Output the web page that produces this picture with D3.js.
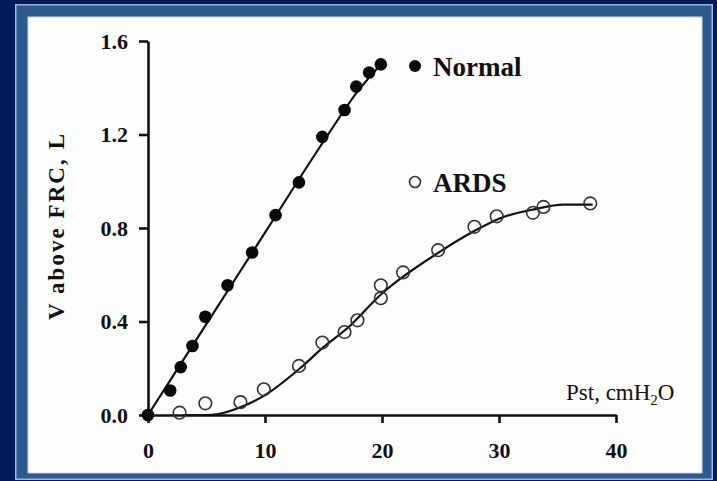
<!DOCTYPE html>
<html>
<head>
<meta charset="utf-8">
<script src="https://cdn.jsdelivr.net/npm/d3@7"></script>
<style>
  html, body { margin: 0; padding: 0; background: #041a58; }
  #chart { width: 717px; height: 481px; }
</style>
</head>
<body>
<div id="chart"></div>
<script>
// values
const normalX = [0, 1.9, 2.8, 3.8, 4.9, 6.8, 8.9, 10.9, 12.9, 14.9, 16.8, 17.8, 18.9, 19.9];
const normalY = [0, 0.105, 0.205, 0.295, 0.42, 0.555, 0.695, 0.855, 0.995, 1.19, 1.305, 1.405, 1.465, 1.5];

const ardsX = [2.7, 4.9, 7.9, 9.9, 12.9, 14.9, 16.8, 17.9, 19.9, 19.9, 21.8, 24.8, 27.9, 29.8, 32.9, 33.8, 37.8];
const ardsY = [0.01, 0.05, 0.055, 0.11, 0.21, 0.31, 0.355, 0.405, 0.5, 0.555, 0.61, 0.705, 0.805, 0.85, 0.865, 0.89, 0.905];

// fitted curves as drawn on the figure
const normalFitX = [0, 5, 10, 15, 18, 19.9];
const normalFitY = [0, 0.39, 0.78, 1.17, 1.39, 1.5];
const ardsFitX = [3, 5, 6, 8, 10, 13, 15, 17, 20, 25, 28, 30, 33, 35.5, 38];
const ardsFitY = [0, 0, 0.004, 0.035, 0.085, 0.2, 0.29, 0.37, 0.52, 0.7, 0.79, 0.84, 0.88, 0.9, 0.9];

const xTicks = [0, 10, 20, 30, 40];
const yTicks = [0, 0.4, 0.8, 1.2, 1.6];

const W = 717, H = 481;
const font = "'Liberation Serif', 'Times New Roman', serif";

const svg = d3.select("#chart").append("svg")
  .attr("width", W).attr("height", H);

// frame
svg.append("rect").attr("x", 0).attr("y", 0).attr("width", W).attr("height", H).attr("fill", "#041a58");
svg.append("rect").attr("x", 15).attr("y", 4).attr("width", 698).attr("height", 476)
  .attr("fill", "#9db7d6");
svg.append("rect").attr("x", 16.5).attr("y", 5.5).attr("width", 695).attr("height", 473)
  .attr("fill", "#2b5a8f");
svg.append("rect").attr("x", 28).attr("y", 17).attr("width", 674).attr("height", 456)
  .attr("fill", "#fdfdfd").attr("stroke", "#c8d6e8").attr("stroke-width", 1);

const x = d3.scaleLinear().domain([0, 40]).range([148, 616]);
const y = d3.scaleLinear().domain([0, 1.6]).range([415, 41]);

// axes
const xAxis = svg.append("g").attr("transform", `translate(0,${y(0)})`)
  .call(d3.axisBottom(x).tickValues(xTicks).tickSize(8).tickSizeOuter(0).tickPadding(19));
const yAxis = svg.append("g").attr("transform", `translate(${x(0)},0)`)
  .call(d3.axisLeft(y).tickValues(yTicks).tickFormat(d3.format(".1f")).tickSize(9).tickSizeOuter(0).tickPadding(11));

[xAxis, yAxis].forEach(g => {
  g.select(".domain").attr("stroke", "#111").attr("stroke-width", 2.6);
  g.selectAll(".tick line").attr("stroke", "#111").attr("stroke-width", 2.6);
  g.selectAll(".tick text").attr("fill", "#111")
    .style("font-family", font).style("font-size", "22px").style("font-weight", "bold");
});
yAxis.selectAll(".tick text").attr("dy", "0.34em");

// fit lines
const line = d3.line().x(d => x(d[0])).y(d => y(d[1])).curve(d3.curveMonotoneX);
svg.append("path").datum(normalFitX.map((v, i) => [v, normalFitY[i]]))
  .attr("d", line).attr("fill", "none").attr("stroke", "#111").attr("stroke-width", 2.2);
svg.append("path").datum(ardsFitX.map((v, i) => [v, ardsFitY[i]]))
  .attr("d", line).attr("fill", "none").attr("stroke", "#111").attr("stroke-width", 2.2);

// points
svg.append("g").selectAll("circle")
  .data(normalX.map((v, i) => [v, normalY[i]]))
  .enter().append("circle")
  .attr("cx", d => x(d[0])).attr("cy", d => y(d[1])).attr("r", 6.3)
  .attr("fill", "#0a0a0a");

svg.append("g").selectAll("circle")
  .data(ardsX.map((v, i) => [v, ardsY[i]]))
  .enter().append("circle")
  .attr("cx", d => x(d[0])).attr("cy", d => y(d[1])).attr("r", 6.3)
  .attr("fill", "none").attr("stroke", "#333").attr("stroke-width", 1.6);

// legend
svg.append("circle").attr("cx", 415).attr("cy", 66).attr("r", 6).attr("fill", "#0a0a0a");
svg.append("text").attr("x", 433).attr("y", 76).text("Normal")
  .style("font-family", font).style("font-size", "27px").style("font-weight", "bold").attr("fill", "#111");
svg.append("circle").attr("cx", 415).attr("cy", 182).attr("r", 5.5)
  .attr("fill", "none").attr("stroke", "#333").attr("stroke-width", 1.6);
svg.append("text").attr("x", 433).attr("y", 192).text("ARDS")
  .style("font-family", font).style("font-size", "27px").style("font-weight", "bold").attr("fill", "#111");

// axis titles
svg.append("text")
  .attr("transform", "translate(64,227) rotate(-90)")
  .attr("text-anchor", "middle")
  .attr("textLength", 186).attr("lengthAdjust", "spacing")
  .text("V above FRC, L")
  .style("font-family", font).style("font-size", "23px").style("font-weight", "bold").attr("fill", "#111");

const pst = svg.append("text").attr("x", 566).attr("y", 400)
  .style("font-family", font).style("font-size", "23px").attr("fill", "#111");
pst.append("tspan").text("Pst, cmH");
pst.append("tspan").attr("dy", 5).style("font-size", "15px").text("2");
pst.append("tspan").attr("dy", -5).text("O");
</script>
</body>
</html>
